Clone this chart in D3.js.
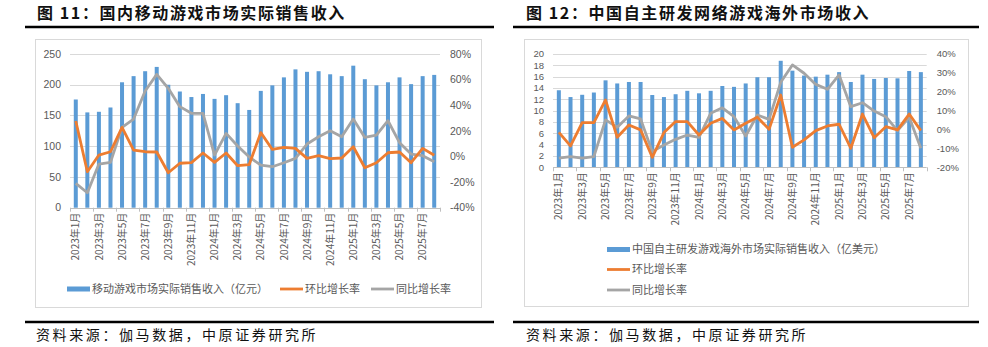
<!DOCTYPE html>
<html><head><meta charset="utf-8">
<script src="https://cdn.jsdelivr.net/npm/d3@7/dist/d3.min.js"></script>
<style>
html,body{margin:0;padding:0;background:#fff;}
svg{display:block;font-family:"Noto Sans CJK SC","Noto Sans",sans-serif;}
</style></head><body>
<svg id="c" width="988" height="347"></svg>
<script>
const months = ["2023年1月","2023年2月","2023年3月","2023年4月","2023年5月","2023年6月","2023年7月","2023年8月","2023年9月","2023年10月","2023年11月","2023年12月",
"2024年1月","2024年2月","2024年3月","2024年4月","2024年5月","2024年6月","2024年7月","2024年8月","2024年9月","2024年10月","2024年11月","2024年12月",
"2025年1月","2025年2月","2025年3月","2025年4月","2025年5月","2025年6月","2025年7月","2025年8月"];

// Chart 11: domestic mobile game revenue (亿元) and growth rates (%)
const domRevenue = [176,155,156,163,204,214,222,229,200,189,180,185,177,183,170,159,190,199,212,225,221,222,217,214,231,209,199,204,212,201,214,216];
const domMoM = [27.7,-11.9,1.1,3.7,22.7,5.0,3.7,3.5,-12.7,-5.3,-4.8,2.7,-4.6,2.7,-7.2,-6.3,18.6,5.5,7.1,6.3,-1.5,0.6,-1.7,-1.2,7.6,-8.8,-4.9,2.9,3.5,-4.9,6.3,0.9];
const domYoY = [-21.0,-28.3,-5.9,-4.6,22.7,29.2,51.1,64.1,53.2,38.9,33.7,33.7,1.1,18.0,8.2,-0.5,-6.7,-8.0,-4.9,-1.5,9.7,15.4,20.1,15.4,29.2,14.9,16.7,27.9,10.8,1.9,0.6,-4.1];
const domLeftTicks = [0,50,100,150,200,250];
const domRightTicks = [-40,-20,0,20,40,60,80];

// Chart 12: overseas revenue of China self-developed games (亿美元) and growth rates (%)
const osRevenue = [13.6,12.4,12.8,13.2,15.35,14.8,15.06,15.06,12.76,12.4,12.9,13.5,13.06,13.5,14.35,14.2,14.8,15.9,15.9,18.8,17.06,16.2,16.0,16.35,16.8,15.06,16.35,15.6,15.76,15.7,17.0,16.8];
const osMoM = [-1.5,-8.7,3.7,3.7,15.7,-4.1,2.4,-0.2,-14.7,-1.6,4.2,4.2,-2.9,3.3,5.9,-0.2,3.3,6.5,0.1,18.3,-9.4,-5.5,-0.6,1.9,2.8,-9.9,8.2,-4.3,1.5,-0.2,8.2,-0.6];
const osYoY = [-15.2,-14.3,-15.2,-14.3,5.1,1.2,7.2,5.6,-11.7,-8.2,-5.2,-2.9,-4.1,8.6,11.5,6.8,-3.4,7.7,5.4,25.0,34.2,29.8,23.9,21.3,28.9,12.1,14.2,9.8,6.8,-0.6,6.5,-9.9];
const osLeftTicks = [0,2,4,6,8,10,12,14,16,18,20];
const osRightTicks = [-20,-10,0,10,20,30,40];

const titles = ["图 11：国内移动游戏市场实际销售收入","图 12：中国自主研发网络游戏海外市场收入"];
const legendNames1 = ["移动游戏市场实际销售收入（亿元）","环比增长率","同比增长率"];
const legendNames2 = ["中国自主研发游戏海外市场实际销售收入（亿美元）","环比增长率","同比增长率"];
const source = "资料来源：伽马数据，中原证券研究所";

const C_BAR = "#5B9BD5", C_MOM = "#ED7D31", C_YOY = "#A5A5A5";
const C_TXT = "#595959", C_GRID = "#D9D9D9";
const NUM_FONT = "'Liberation Sans','DejaVu Sans',sans-serif";

const svg = d3.select("#c");

function panel(o){
  // heading
  svg.append("text").attr("x",o.titleX).attr("y",18.5)
    .attr("font-size",16).attr("font-weight",700).attr("fill","#111")
    .attr("letter-spacing",1.6).text(o.title);
  svg.append("line").attr("x1",o.ruleX0).attr("x2",o.ruleX1).attr("y1",27).attr("y2",27)
    .attr("stroke","#000").attr("stroke-width",2.6);
  svg.append("line").attr("x1",o.ruleX0).attr("x2",o.ruleX1).attr("y1",322).attr("y2",322)
    .attr("stroke","#000").attr("stroke-width",2.4);
  svg.append("text").attr("x",o.srcX).attr("y",340).attr("font-size",14)
    .attr("fill","#111").attr("letter-spacing",2.6).text(source);
  // frame
  svg.append("rect").attr("x",o.fx0+0.5).attr("y",o.fy0+0.5)
    .attr("width",o.fx1-o.fx0).attr("height",o.fy1-o.fy0)
    .attr("fill","none").attr("stroke",C_GRID).attr("stroke-width",1);

  const x = d3.scaleBand().domain(months).range([o.x0,o.x1]).paddingInner(0).paddingOuter(0);
  const yL = d3.scaleLinear().domain(o.leftDomain).range([o.yBot,o.yTop]);
  const yR = d3.scaleLinear().domain(o.rightDomain).range([o.yBot,o.yTop]);
  const g = svg.append("g");

  // gridlines
  g.selectAll(".grid").data(o.leftTicks.filter(t=>t!==o.leftDomain[0])).join("line")
    .attr("x1",o.x0).attr("x2",o.x1).attr("y1",d=>Math.round(yL(d))+0.5).attr("y2",d=>Math.round(yL(d))+0.5)
    .attr("stroke",C_GRID).attr("stroke-width",1);
  // left labels
  g.selectAll(".yl").data(o.leftTicks).join("text")
    .attr("x",o.x0-9).attr("y",d=>yL(d)).attr("dy","0.35em").attr("text-anchor","end")
    .attr("font-family",NUM_FONT).attr("font-size",o.tickFont).attr("fill",C_TXT).text(d=>d);
  // right labels
  g.selectAll(".yr").data(o.rightTicks).join("text")
    .attr("x",o.x1+10).attr("y",d=>yR(d)).attr("dy","0.35em").attr("text-anchor","start")
    .attr("font-family",NUM_FONT).attr("font-size",o.tickFont).attr("fill",C_TXT).text(d=>d+"%");

  // bars
  const bw = 4;
  g.selectAll(".bar").data(o.bars).join("rect")
    .attr("x",(d,i)=>x(months[i])+x.bandwidth()/2-bw/2).attr("width",bw)
    .attr("y",d=>yL(d)).attr("height",d=>yL(o.leftDomain[0])-yL(d))
    .attr("fill",C_BAR);

  // x axis line
  g.append("line").attr("x1",o.x0).attr("x2",o.x1).attr("y1",Math.round(o.yBot)+0.5).attr("y2",Math.round(o.yBot)+0.5)
    .attr("stroke","#BFBFBF").attr("stroke-width",1);
  // tick marks every 2 categories at band boundaries
  const tickIdx = d3.range(0, months.length+1, 2);
  g.selectAll(".tk").data(tickIdx).join("line")
    .attr("x1",i=>Math.round(i<months.length? x(months[i]) : o.x1)+0.5)
    .attr("x2",i=>Math.round(i<months.length? x(months[i]) : o.x1)+0.5)
    .attr("y1",o.yBot).attr("y2",o.yBot+4).attr("stroke","#BFBFBF").attr("stroke-width",1);
  // x labels (every other month)
  g.selectAll(".xl").data(months.filter((m,i)=>i%2===0)).join("text")
    .attr("transform",d=>`translate(${x(d)+x.bandwidth()/2},${o.yBot+5}) rotate(-90)`)
    .attr("dy","0.36em").attr("text-anchor","end")
    .attr("font-size",10).attr("fill",C_TXT).text(d=>d);

  // lines
  const lineR = d3.line().x((d,i)=>x(months[i])+x.bandwidth()/2).y(d=>yR(d));
  g.append("path").datum(o.yoy).attr("d",lineR).attr("fill","none")
    .attr("stroke",C_YOY).attr("stroke-width",2.8).attr("stroke-linejoin","round");
  g.append("path").datum(o.mom).attr("d",lineR).attr("fill","none")
    .attr("stroke",C_MOM).attr("stroke-width",2.8).attr("stroke-linejoin","round");

  // legend
  const cols = [C_BAR,C_MOM,C_YOY];
  o.legend.forEach((it,k)=>{
    const lg = svg.append("g").attr("transform",`translate(${it.x},${it.y})`);
    if(k===0) lg.append("rect").attr("x",0).attr("y",-2.5).attr("width",23).attr("height",5).attr("fill",cols[k]);
    else lg.append("line").attr("x1",0).attr("x2",23).attr("y1",0).attr("y2",0).attr("stroke",cols[k]).attr("stroke-width",2.8);
    lg.append("text").attr("x",25).attr("y",0).attr("dy","0.36em").attr("font-size",11)
      .attr("fill",C_TXT).text(o.legendNames[k]);
  });
}

panel({
  title:titles[0], titleX:37, ruleX0:25, ruleX1:494, srcX:36,
  fx0:35, fy0:39, fx1:481, fy1:307,
  x0:70, x1:440, yTop:54, yBot:207.7,
  leftDomain:[0,250], rightDomain:[-40,80],
  leftTicks:domLeftTicks, rightTicks:domRightTicks, tickFont:10.5,
  bars:domRevenue, mom:domMoM, yoy:domYoY,
  legendNames:legendNames1,
  legend:[{x:67,y:289},{x:280,y:289},{x:371,y:289}]
});

panel({
  title:titles[1], titleX:526, ruleX0:513, ruleX1:979, srcX:526,
  fx0:524, fy0:39, fx1:968, fy1:306,
  x0:553, x1:926.7, yTop:54, yBot:167.3,
  leftDomain:[0,20], rightDomain:[-20,40],
  leftTicks:osLeftTicks, rightTicks:osRightTicks, tickFont:9.5,
  bars:osRevenue, mom:osMoM, yoy:osYoY,
  legendNames:legendNames2,
  legend:[{x:607,y:249.5},{x:607,y:269.5},{x:607,y:290}]
});
</script>
</body></html>
